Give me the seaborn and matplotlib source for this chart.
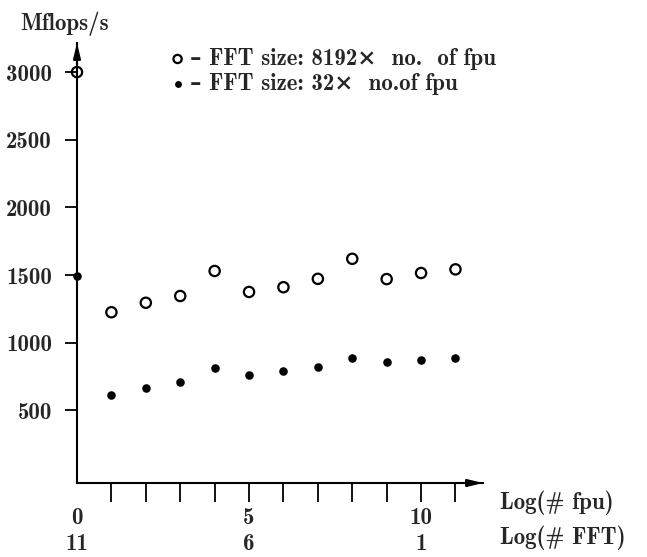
import matplotlib
matplotlib.use("Agg")
import matplotlib.pyplot as plt
import seaborn as sns
import pandas as pd

# ── Données ──────────────────────────────────────────────────────────────
log_fpu = [0, 1, 2, 3, 4, 5, 6, 7, 8, 9, 10, 11]
mflops_8192 = [3000, 1225, 1295, 1345, 1530, 1375, 1410, 1472, 1620, 1470, 1515, 1542]
mflops_32 = [1490, 610, 662, 710, 810, 760, 793, 822, 886, 857, 872, 889]

yticks = [500, 1000, 1500, 2000, 2500, 3000]
xtick_pos = [0, 5, 10]
xtick_fpu = ["0", "5", "10"]
xtick_fft = ["11", "6", "1"]

label_8192 = "– FFT size: 8192×  no.  of fpu"
label_32 = "– FFT size: 32×  no.of fpu"

df = pd.DataFrame({"log_fpu": log_fpu, "big": mflops_8192, "small": mflops_32})

# ── Style ────────────────────────────────────────────────────────────────
sns.set_style("white")
FONT = ["cmb10", "DejaVu Serif"]
plt.rcParams["font.family"] = FONT
plt.rcParams["font.weight"] = "bold"
plt.rcParams["axes.unicode_minus"] = False
FS = 16.5

fig = plt.figure(figsize=(6.47, 5.57), dpi=100)
ax = fig.add_axes([77 / 647, 74 / 557, 406 / 647, 440 / 557])

sns.scatterplot(data=df, x="log_fpu", y="big", ax=ax, marker="o", s=55,
                facecolor="none", edgecolor="black", linewidth=1.6,
                label=label_8192, clip_on=False, zorder=3)
sns.scatterplot(data=df, x="log_fpu", y="small", ax=ax, marker="o", s=38,
                color="black", edgecolor="black", linewidth=0,
                label=label_32, clip_on=False, zorder=3)

ax.set_xlim(0, 11.8)
ax.set_ylim(-37, 3215)

# axes avec flèches
for side in ["top", "right"]:
    ax.spines[side].set_visible(False)
for side in ["left", "bottom"]:
    ax.spines[side].set_linewidth(1.5)
    ax.spines[side].set_color("black")
arrow = dict(arrowstyle="-|>,head_length=0.9,head_width=0.22",
             color="black", lw=1.5, shrinkA=0, shrinkB=0)
ax.annotate("", xy=(0, 1.0), xytext=(0, 0.95), xycoords="axes fraction", arrowprops=arrow)
ax.annotate("", xy=(1.0, 0), xytext=(0.95, 0), xycoords="axes fraction", arrowprops=arrow)

# ticks y
ax.set_yticks(yticks)
ax.set_yticklabels([str(v) for v in yticks])
ax.tick_params(axis="y", direction="out", length=9, width=1.3, pad=9,
               labelsize=FS, left=True, color="black")

# ticks x : marques 1..11, étiquettes sur deux lignes à 0, 5, 10
xticks = list(range(0, 12))
xlabels = []
for t in xticks:
    if t in xtick_pos:
        i = xtick_pos.index(t)
        xlabels.append(f"{xtick_fpu[i]}\n{xtick_fft[i]}")
    else:
        xlabels.append("")
ax.set_xticks(xticks)
ax.set_xticklabels(xlabels, linespacing=1.25)
ax.tick_params(axis="x", direction="out", length=14, width=1.3, pad=3,
               labelsize=FS, bottom=True, color="black")
ax.xaxis.get_major_ticks()[0].tick1line.set_visible(False)

ax.set_xlabel("")
ax.set_ylabel("")

fig.text(20 / 647, 1 - 30 / 557, "Mflops/s", fontsize=FS, va="baseline", ha="left")
fig.text(500 / 647, 1 - 509 / 557, "Log(# fpu)", fontsize=FS, va="baseline", ha="left")
fig.text(500 / 647, 1 - 544 / 557, "Log(# FFT)", fontsize=FS, va="baseline", ha="left")

ax.legend(loc="upper left", bbox_to_anchor=(173 / 647, 1 - 48 / 557),
          bbox_transform=fig.transFigure, frameon=False, fontsize=FS,
          handlelength=0.4, handletextpad=0.35, labelspacing=0.12,
          borderpad=0, borderaxespad=0, markerscale=0.8)

fig.savefig("out.png", dpi=100)
